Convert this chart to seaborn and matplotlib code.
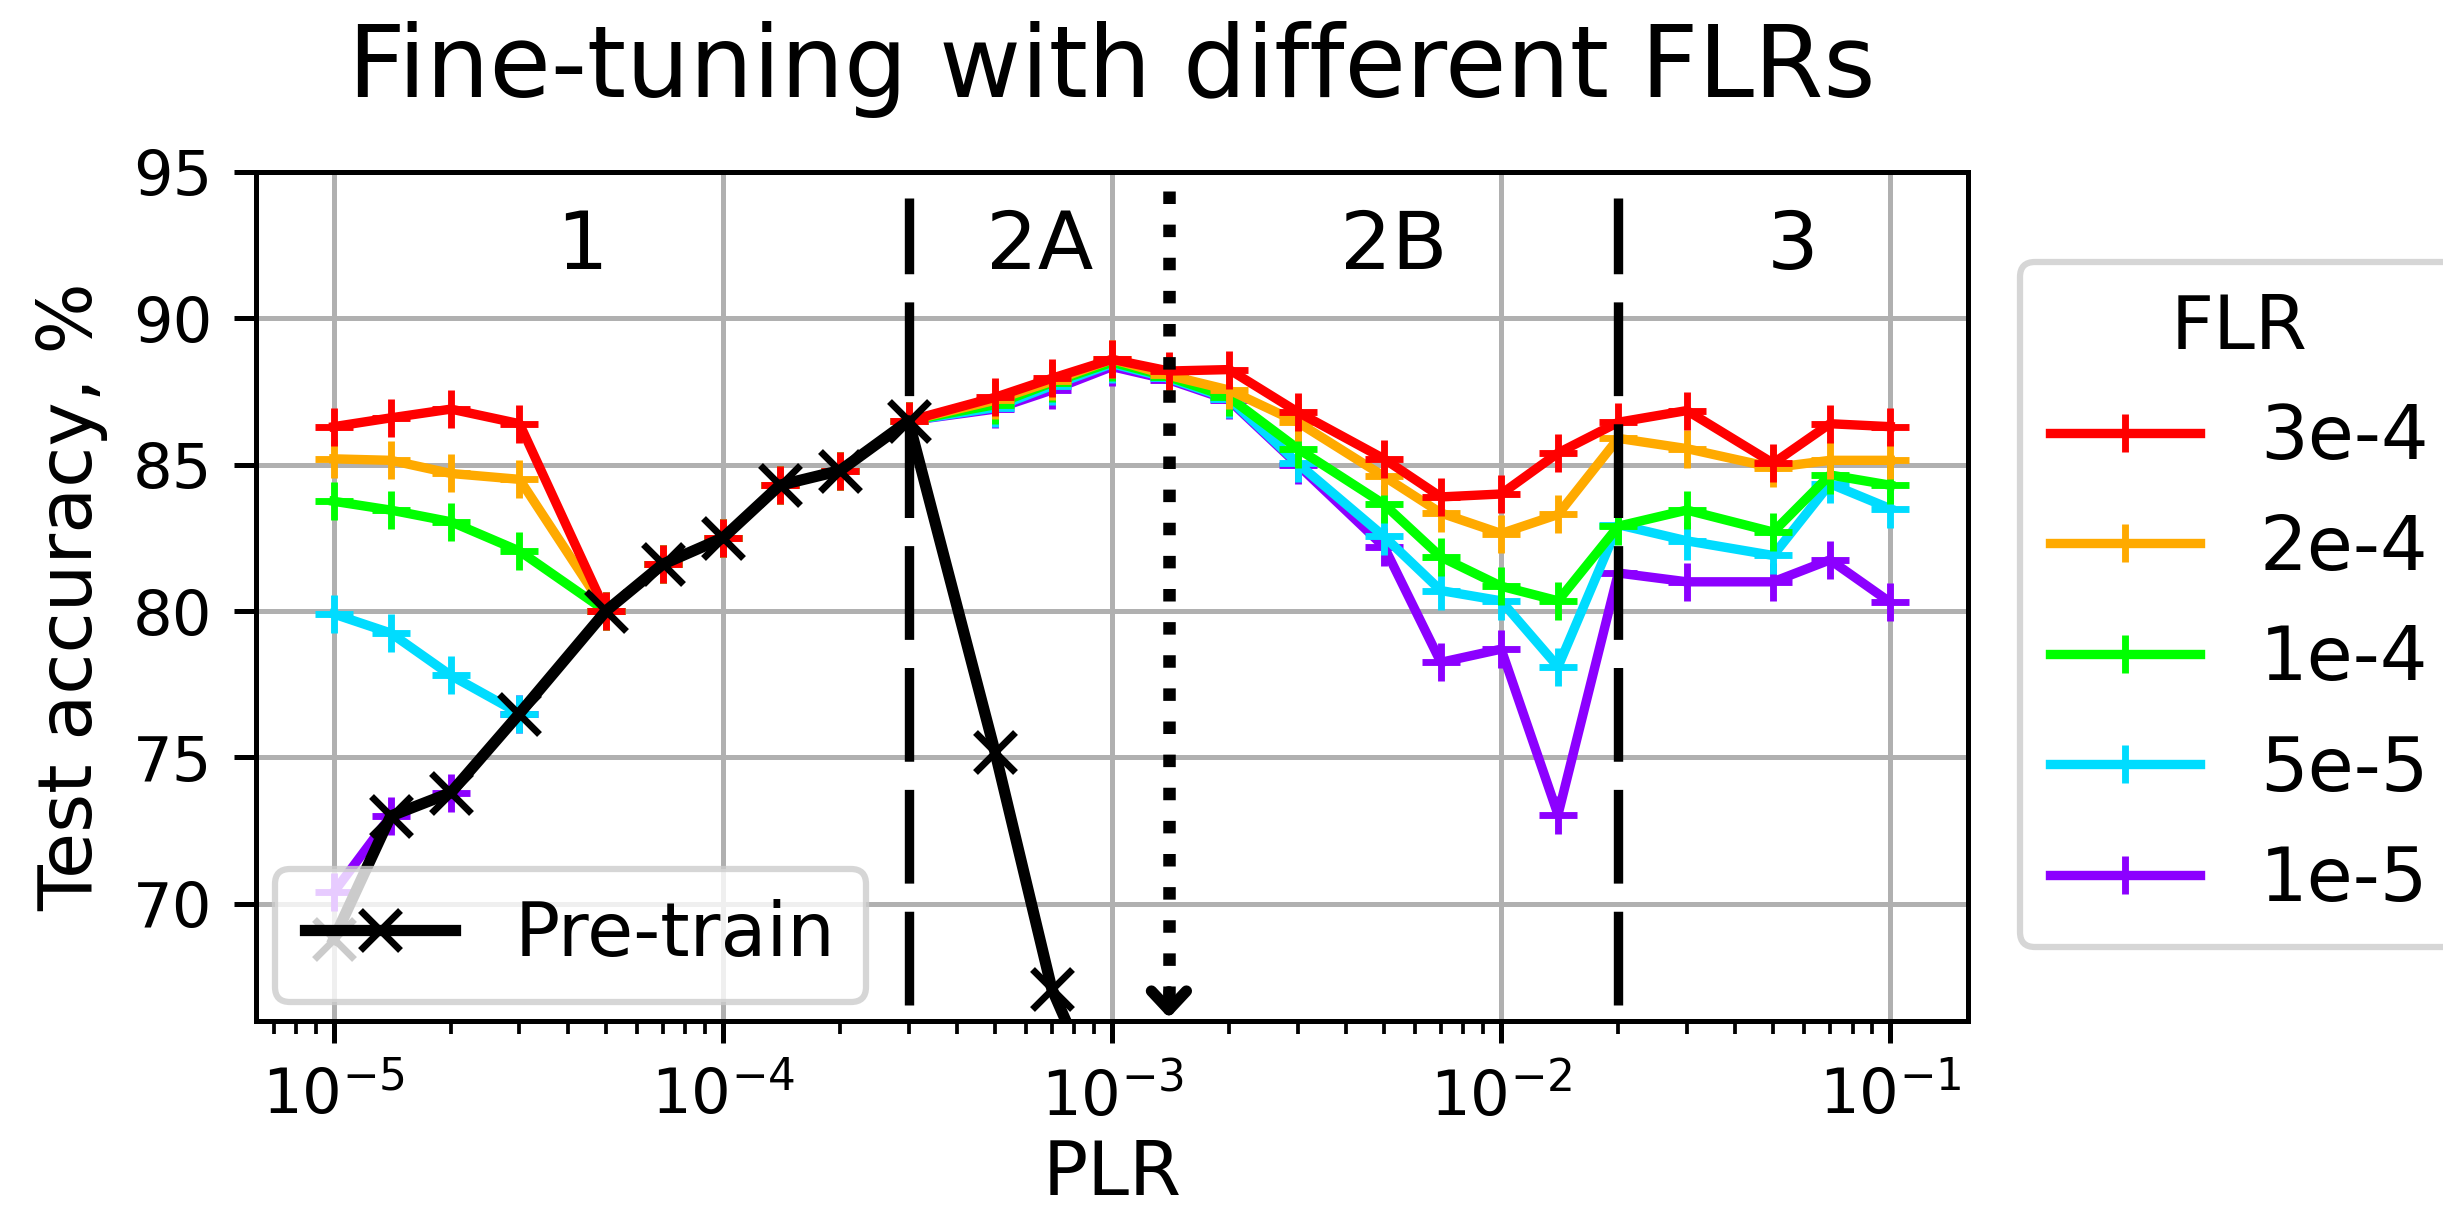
import matplotlib
matplotlib.use("Agg")
import matplotlib.pyplot as plt
import seaborn as sns
import pandas as pd

# ---------------- data ----------------
plr = [1e-5, 1.4e-5, 2e-5, 3e-5, 5e-5, 7e-5, 1e-4, 1.4e-4, 2e-4, 3e-4,
       5e-4, 7e-4, 1e-3, 1.4e-3, 2e-3, 3e-3, 5e-3, 7e-3, 1e-2, 1.4e-2,
       2e-2, 3e-2, 5e-2, 7e-2, 1e-1]

flr_labels = ["3e-4", "2e-4", "1e-4", "5e-5", "1e-5"]

acc_3e4 = [86.3, 86.6, 86.9, 86.4, 80.0, 81.6, 82.5, 84.3, 84.8, 86.5,
           87.3, 87.95, 88.6, 88.2, 88.25, 86.8, 85.2, 83.9, 84.0, 85.4,
           86.45, 86.85, 85.05, 86.4, 86.3]
acc_2e4 = [85.2, 85.15, 84.7, 84.5, 80.0, 81.6, 82.5, 84.3, 84.8, 86.5,
           87.2, 87.85, 88.6, 88.05, 87.55, 86.45, 84.6, 83.35, 82.65, 83.3,
           85.9, 85.55, 84.9, 85.15, 85.15]
acc_1e4 = [83.75, 83.45, 83.05, 82.05, 80.0, 81.6, 82.5, 84.3, 84.8, 86.5,
           87.05, 87.8, 88.5, 88.0, 87.3, 85.55, 83.65, 81.85, 80.85, 80.35,
           82.9, 83.45, 82.7, 84.65, 84.3]
acc_5e5 = [79.9, 79.25, 77.8, 76.5, 80.0, 81.6, 82.5, 84.3, 84.8, 86.5,
           86.95, 87.7, 88.45, 87.95, 87.25, 85.05, 82.55, 80.7, 80.35, 78.1,
           82.95, 82.4, 81.9, 84.35, 83.5]
acc_1e5 = [70.4, 73.0, 73.8, 76.5, 80.0, 81.6, 82.5, 84.3, 84.8, 86.5,
           86.9, 87.55, 88.35, 87.9, 87.2, 85.0, 82.2, 78.25, 78.7, 73.05,
           81.3, 81.0, 81.0, 81.75, 80.3]

plr_pretrain = [1e-5, 1.4e-5, 2e-5, 3e-5, 5e-5, 7e-5, 1e-4, 1.4e-4, 2e-4,
                3e-4, 5e-4, 7e-4, 1e-3]
acc_pretrain = [68.8, 73.0, 73.8, 76.5, 80.0, 81.6, 82.5, 84.3, 84.8,
                86.5, 75.2, 67.1, 62.4]

region_labels = ["1", "2A", "2B", "3"]
region_centers = [4.35e-5, 6.5e-4, 5.3e-3, 5.6e-2]
phase_bounds = [3e-4, 2e-2]        # dashed boundaries
divergence_plr = 1.4e-3            # dotted arrow

colors = ["#ff0000", "#ffaa00", "#00ff00", "#00dcff", "#8c00ff"]
series = [acc_3e4, acc_2e4, acc_1e4, acc_5e5, acc_1e5]

# ---------------- figure ----------------
DPI = 450
fig = plt.figure(figsize=(2443 / DPI, 1217 / DPI), dpi=DPI)
ax = fig.add_axes([0.1048, 0.1611, 0.7008, 0.6976])

flr_handles = {}
for lab, vals, c in reversed(list(zip(flr_labels, series, colors))):
    df = pd.DataFrame({"PLR": plr, "acc": vals})
    n_before = len(ax.lines)
    sns.lineplot(data=df, x="PLR", y="acc", ax=ax, color=c, marker="+",
                 markersize=6, markeredgewidth=1.1, markeredgecolor=c,
                 linewidth=1.5, estimator=None, legend=False)
    flr_handles[lab] = ax.lines[n_before]

df_pt = pd.DataFrame({"PLR": plr_pretrain, "acc": acc_pretrain})
n_before = len(ax.lines)
sns.lineplot(data=df_pt, x="PLR", y="acc", ax=ax, color="k", marker="x",
             markersize=6.5, markeredgewidth=1.1, markeredgecolor="k",
             linewidth=1.8, estimator=None, legend=False)
pt_handle = ax.lines[n_before]

ax.set_xscale("log")
ax.set_xlim(10 ** -5.2, 10 ** -0.8)
ax.set_ylim(66, 95)
ax.set_yticks([70, 75, 80, 85, 90, 95])
ax.grid(True, which="major", color="#b0b0b0", linewidth=0.8)
ax.tick_params(labelsize=10)

# phase boundaries
for xb in phase_bounds:
    ax.plot([xb, xb], [66.55, 94.12], color="k", lw=1.5,
            linestyle=(0, (10, 3)))
ax.plot([divergence_plr, divergence_plr], [94.35, 66.4], color="k", lw=2,
        linestyle=":")
ax.annotate("", xy=(divergence_plr, 66.1), xytext=(divergence_plr, 67.0),
            arrowprops=dict(arrowstyle="->,head_length=0.3,head_width=0.28",
                            lw=1.8, color="k", mutation_scale=10,
                            shrinkA=0, shrinkB=0))

for lab, xc in zip(region_labels, region_centers):
    ax.text(xc, 92.45, lab, ha="center", va="center", fontsize=13)

ax.set_title("Fine-tuning with different FLRs", fontsize=16, pad=12)
ax.set_xlabel("PLR", fontsize=12, labelpad=1.5)
ax.set_ylabel("Test accuracy, %", fontsize=12)

leg1 = ax.legend([pt_handle], ["Pre-train"], loc="lower left",
                 fontsize=12, borderaxespad=0.25)
ax.add_artist(leg1)
ax.legend([flr_handles[l] for l in flr_labels], flr_labels, title="FLR",
          loc="upper left", bbox_to_anchor=(0.8268, 0.785),
          bbox_transform=fig.transFigure, borderaxespad=0,
          fontsize=12, title_fontsize=12)

fig.savefig("out.png", dpi=DPI)
